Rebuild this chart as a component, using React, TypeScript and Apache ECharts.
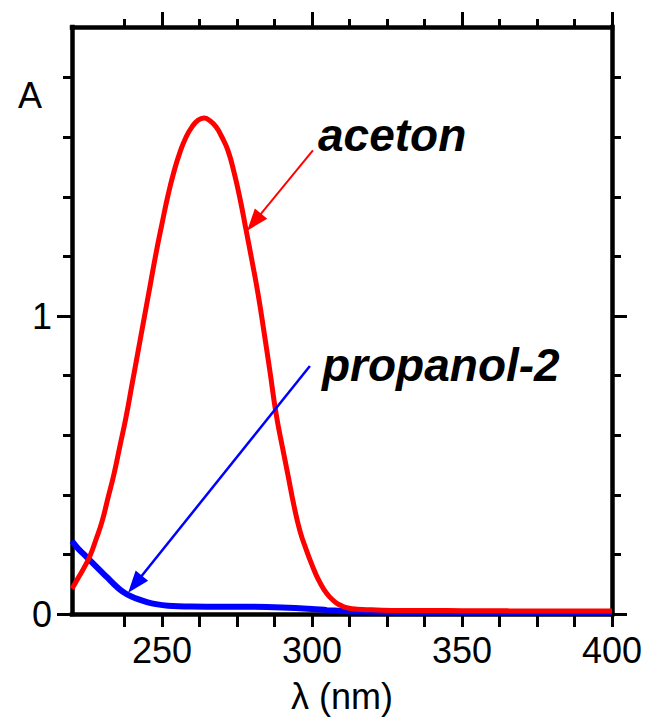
import React, { useEffect, useRef } from "react";
import * as echarts from "echarts";

// Acetone spectrum (wavelength nm, absorbance)
const acetonWavelengths = [
  220, 222, 224, 226, 228, 230, 232, 234, 236, 238, 240, 242, 244, 246, 248, 250,
  252, 254, 256, 258, 260, 262, 264, 266, 268, 270, 272, 274, 276, 278, 280, 282,
  284, 286, 288, 290, 292, 294, 296, 298, 300, 302, 304, 306, 308, 310, 312, 315,
  320, 330, 340, 350, 360, 370, 380, 390, 400,
];
const acetonAbsorbance = [
  0.085, 0.12, 0.155, 0.195, 0.25, 0.31, 0.39, 0.47, 0.565, 0.66, 0.77, 0.88, 0.99, 1.1, 1.21, 1.31,
  1.405, 1.485, 1.55, 1.6, 1.635, 1.657, 1.665, 1.655, 1.635, 1.6, 1.555, 1.483, 1.394, 1.29, 1.185, 1.075,
  0.947, 0.813, 0.674, 0.567, 0.466, 0.363, 0.278, 0.218, 0.165, 0.118, 0.082, 0.056, 0.038, 0.027, 0.02, 0.016,
  0.014, 0.012, 0.012, 0.011, 0.011, 0.01, 0.01, 0.01, 0.01,
];

// Propanol-2 spectrum
const propanolWavelengths = [
  220, 222, 224, 226, 228, 230, 232, 234, 236, 238, 240, 242, 245, 248, 252, 260,
  270, 280, 290, 300, 305, 310, 315, 330, 360, 400,
];
const propanolAbsorbance = [
  0.245, 0.22, 0.2, 0.18, 0.16, 0.14, 0.12, 0.1, 0.082, 0.068, 0.058, 0.05, 0.04, 0.033, 0.028, 0.025,
  0.024, 0.024, 0.022, 0.017, 0.013, 0.01, 0.008, 0.007, 0.006, 0.006,
];

// Ticks
const xMajorTicks = [250, 300, 350, 400];
const xMinorTicks = [237.5, 262.5, 275, 287.5, 312.5, 325, 337.5, 362.5, 375, 387.5];
const xAllTicks = [237.5, 250, 262.5, 275, 287.5, 300, 312.5, 325, 337.5, 350, 362.5, 375, 387.5, 400];
const yMajorTicks = [0, 1];
const yMinorTicks = [0.2, 0.4, 0.6, 0.8, 1.2, 1.4, 1.6, 1.8];

// Arrow annotations [start, end] in data coordinates
const acetonArrow = [[300.3, 1.556], [280.7, 1.315]];
const propanolArrow = [[299.3, 0.832], [241.0, 0.1]];

const FONT = "'Liberation Sans', Arial, Helvetica, sans-serif";
const X_MIN = 220;
const X_MAX = 400;
const Y_MIN = 0;
const Y_MAX = 1.97;

export default function App() {
  const ref = useRef<HTMLDivElement>(null);

  useEffect(() => {
    if (!ref.current) return;
    const chart = echarts.init(ref.current, null, { renderer: "svg" });

    const axisLine = {
      show: true,
      onZero: false,
      lineStyle: { color: "#000", width: 4.5, cap: "square" },
    };
    const tickStyle = { color: "#000", width: 3 };

    const xBase = {
      type: "value",
      min: X_MIN,
      max: X_MAX,
      splitLine: { show: false },
    };
    const yBase = {
      type: "value",
      min: Y_MIN,
      max: Y_MAX,
      splitLine: { show: false },
    };

    const option: any = {
      animation: false,
      backgroundColor: "#fff",
      grid: { left: 72, right: 38, top: 27, bottom: 112, containLabel: false },
      xAxis: [
        {
          ...xBase,
          position: "bottom",
          axisLine,
          axisTick: { show: true, inside: false, length: 13, lineStyle: tickStyle, customValues: xAllTicks },
          axisLabel: {
            show: true,
            customValues: xMajorTicks,
            fontSize: 36,
            color: "#000",
            fontFamily: FONT,
            margin: 18,
          },
          name: "λ (nm)",
          nameLocation: "middle",
          nameGap: 64,
          nameTextStyle: { fontSize: 36, color: "#000", fontFamily: FONT },
        },
        {
          ...xBase,
          position: "top",
          axisLine,
          axisTick: { show: true, inside: false, length: 8, lineStyle: tickStyle, customValues: xMinorTicks },
          axisLabel: { show: false },
        },
        {
          ...xBase,
          position: "top",
          axisLine: { show: false, onZero: false },
          axisTick: { show: true, inside: false, length: 15, lineStyle: tickStyle, customValues: xMajorTicks },
          axisLabel: { show: false },
        },
      ],
      yAxis: [
        {
          ...yBase,
          position: "left",
          axisLine,
          axisTick: { show: true, inside: false, length: 9, lineStyle: tickStyle, customValues: yMinorTicks },
          axisLabel: {
            show: true,
            customValues: yMajorTicks,
            fontSize: 36,
            color: "#000",
            fontFamily: FONT,
            margin: 20,
          },
        },
        {
          ...yBase,
          position: "left",
          axisLine: { show: false, onZero: false },
          axisTick: { show: true, inside: false, length: 15, lineStyle: tickStyle, customValues: yMajorTicks },
          axisLabel: { show: false },
        },
        {
          ...yBase,
          position: "right",
          axisLine,
          axisTick: { show: true, inside: false, length: 9, lineStyle: tickStyle, customValues: yMinorTicks },
          axisLabel: { show: false },
        },
        {
          ...yBase,
          position: "right",
          axisLine: { show: false, onZero: false },
          axisTick: { show: true, inside: false, length: 15, lineStyle: tickStyle, customValues: yMajorTicks },
          axisLabel: { show: false },
        },
      ],
      series: [
        {
          type: "line",
          name: "propanol-2",
          xAxisIndex: 0,
          yAxisIndex: 0,
          data: propanolWavelengths.map((x, i) => [x, propanolAbsorbance[i]]),
          showSymbol: false,
          smooth: 0.3,
          lineStyle: { color: "#0000ff", width: 6 },
          z: 2,
          markLine: {
            silent: true,
            animation: false,
            symbol: ["none", "triangle"],
            symbolSize: [16, 22],
            label: { show: false },
            lineStyle: { color: "#0000ff", width: 2.5, type: "solid" },
            itemStyle: { color: "#0000ff" },
            data: [
              [
                { coord: propanolArrow[0] },
                { coord: propanolArrow[1] },
              ],
            ],
          },
        },
        {
          type: "line",
          name: "aceton",
          xAxisIndex: 0,
          yAxisIndex: 0,
          data: acetonWavelengths.map((x, i) => [x, acetonAbsorbance[i]]),
          showSymbol: false,
          smooth: 0.5,
          lineStyle: { color: "#ff0000", width: 5 },
          z: 3,
          markLine: {
            silent: true,
            animation: false,
            symbol: ["none", "triangle"],
            symbolSize: [16, 22],
            label: { show: false },
            lineStyle: { color: "#ff0000", width: 2, type: "solid" },
            itemStyle: { color: "#ff0000" },
            data: [
              [
                { coord: acetonArrow[0] },
                { coord: acetonArrow[1] },
              ],
            ],
          },
        },
      ],
      graphic: [
        {
          type: "text",
          x: 30,
          y: 95,
          style: {
            text: "A",
            fontSize: 36,
            fontFamily: FONT,
            fill: "#000",
            align: "center",
            verticalAlign: "middle",
          },
        },
        {
          type: "text",
          x: 318,
          y: 135,
          style: {
            text: "aceton",
            fontSize: 46,
            fontWeight: "bold",
            fontStyle: "italic",
            fontFamily: FONT,
            fill: "#000",
            align: "left",
            verticalAlign: "middle",
          },
        },
        {
          type: "text",
          x: 322,
          y: 365,
          style: {
            text: "propanol-2",
            fontSize: 46,
            fontWeight: "bold",
            fontStyle: "italic",
            fontFamily: FONT,
            fill: "#000",
            align: "left",
            verticalAlign: "middle",
          },
        },
      ],
    };

    chart.setOption(option);
    return () => chart.dispose();
  }, []);

  return (
    <div
      ref={ref}
      style={{ position: "absolute", left: 0, top: 0, width: 650, height: 726 }}
    />
  );
}
